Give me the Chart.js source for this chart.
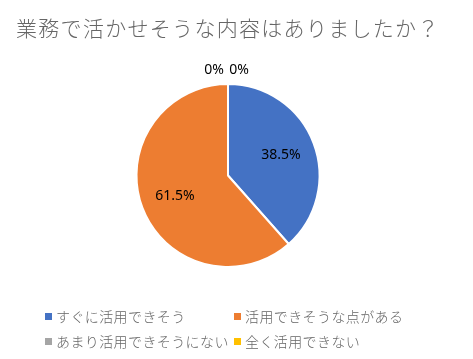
<!DOCTYPE html>
<html>
<head>
<meta charset="utf-8">
<script src="https://cdn.jsdelivr.net/npm/chart.js@4/dist/chart.umd.min.js"></script>
<style>
  html, body { margin: 0; padding: 0; background: #fff; }
  #wrap { position: relative; width: 473px; height: 359px; }
</style>
</head>
<body>
<div id="wrap"><canvas id="c"></canvas></div>
<script>
const titleText = "業務で活かせそうな内容はありましたか？";
const categories = ["すぐに活用できそう", "活用できそうな点がある", "あまり活用できそうにない", "全く活用できない"];
const counts = [5, 8, 0, 0];
const colors = ["#4472C4", "#ED7D31", "#A5A5A5", "#FFC000"];

const JP = '"Noto Sans CJK JP", "Noto Sans", sans-serif';

// title, legend and percent labels are drawn by hand
const decor = {
  id: "decor",
  afterDraw(chart) {
    const ctx = chart.ctx;
    const total = counts.reduce((a, b) => a + b, 0);
    const spacing = (v) => { if ("letterSpacing" in ctx) ctx.letterSpacing = v; };
    ctx.save();

    // title
    ctx.fillStyle = "#666666";
    ctx.font = "300 21px " + JP;
    ctx.textBaseline = "middle";
    ctx.textAlign = "left";
    spacing("1.3px");
    ctx.fillText(titleText, 16, 28);
    spacing("0px");

    // labels on slices
    const meta = chart.getDatasetMeta(0);
    ctx.fillStyle = "#000";
    ctx.font = "14px 'Noto Sans', sans-serif";
    ctx.textAlign = "center";
    let zeroIdx = 0;
    meta.data.forEach((arc, i) => {
      const v = counts[i];
      const pct = v / total * 100;
      const txt = v === 0 ? "0%" : pct.toFixed(1) + "%";
      let x, y;
      if (v === 0) {
        x = arc.x + (zeroIdx === 0 ? -14 : 11);
        y = arc.y - arc.outerRadius - 14;
        zeroIdx++;
      } else {
        const mid = (arc.startAngle + arc.endAngle) / 2;
        const r = arc.outerRadius * 0.62;
        x = arc.x + Math.cos(mid) * r;
        y = arc.y + Math.sin(mid) * r;
      }
      ctx.fillText(txt, x, y);
    });

    // legend, two columns
    ctx.font = "300 14px " + JP;
    ctx.textAlign = "left";
    spacing("0.4px");
    const colX = [45, 234];
    const rowY = [316, 341];
    categories.forEach((name, i) => {
      const cx = colX[i % 2], cy = rowY[Math.floor(i / 2)];
      ctx.fillStyle = colors[i];
      ctx.fillRect(cx, cy - 3, 7, 7);
      ctx.fillStyle = "#666666";
      ctx.fillText(name, cx + 11, cy + 1);
    });
    ctx.restore();
  }
};

new Chart(document.getElementById("c"), {
  type: "pie",
  data: {
    labels: categories,
    datasets: [{
      data: counts,
      backgroundColor: colors,
      borderColor: "#fff",
      borderWidth: 2
    }]
  },
  options: {
    responsive: true,
    maintainAspectRatio: false,
    animation: false,
    rotation: 0,
    layout: { padding: { top: 83, bottom: 91, left: 135, right: 152 } },
    plugins: {
      legend: { display: false },
      title: { display: false },
      tooltip: { enabled: false }
    }
  },
  plugins: [decor]
});
</script>
</body>
</html>
